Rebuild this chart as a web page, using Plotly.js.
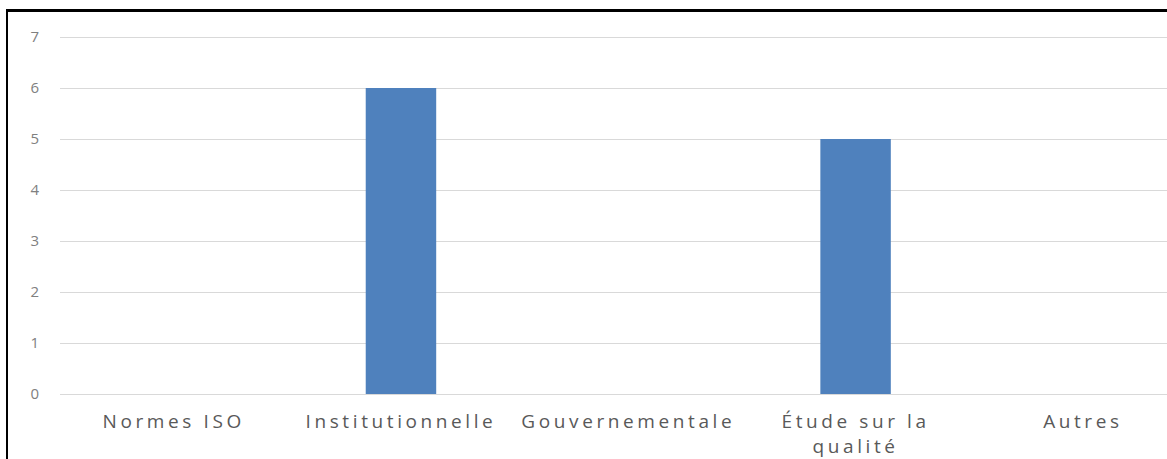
<!DOCTYPE html>
<html>
<head>
<meta charset="utf-8">
<script src="https://cdn.plot.ly/plotly-3.0.1.min.js"></script>
<style>
html,body{margin:0;padding:0;background:#fff;}
#wrap{position:relative;width:1167px;height:459px;overflow:hidden;}
#chart{position:absolute;left:0;top:0;width:1167px;height:459px;}
#frame{position:absolute;left:6px;top:9px;width:1200px;height:500px;border-left:2px solid #000;border-top:3px solid #000;pointer-events:none;}
#chart .xtick text{letter-spacing:3.6px;}
#chart .ytick text{letter-spacing:1px;}
</style>
</head>
<body>
<div id="wrap"><div id="chart"></div><div id="frame"></div></div>
<script>
const categories = ["Normes ISO", "Institutionnelle", "Gouvernementale", "Étude sur la<br>qualité", "Autres"];
const values = [0, 6, 0, 5, 0];
const yTicks = [0, 1, 2, 3, 4, 5, 6, 7];

const trace = {
  type: "bar",
  x: categories,
  y: values,
  width: 0.31,
  marker: {color: "#4f81bd"},
  hoverinfo: "x+y"
};

const layout = {
  width: 1167,
  height: 459,
  margin: {l: 60, r: 0, t: 35, b: 65, pad: 0},
  paper_bgcolor: "#ffffff",
  plot_bgcolor: "#ffffff",
  showlegend: false,
  xaxis: {
    type: "category",
    range: [-0.5, 4.37],
    showgrid: false,
    zeroline: false,
    showline: false,
    ticks: "",
    ticklabelstandoff: 14,
    tickfont: {family: "Open Sans, sans-serif", size: 19, color: "#595959"},
    fixedrange: true
  },
  yaxis: {
    range: [0, 7.04],
    tickvals: yTicks,
    showgrid: true,
    gridcolor: "#d9d9d9",
    gridwidth: 1,
    zeroline: true,
    zerolinecolor: "#d9d9d9",
    zerolinewidth: 1,
    showline: false,
    ticks: "",
    ticklabelstandoff: 19,
    tickfont: {family: "Open Sans, sans-serif", size: 15, color: "#808080"},
    fixedrange: true
  }
};

Plotly.newPlot("chart", [trace], layout, {displayModeBar: false, staticPlot: true});
</script>
</body>
</html>
